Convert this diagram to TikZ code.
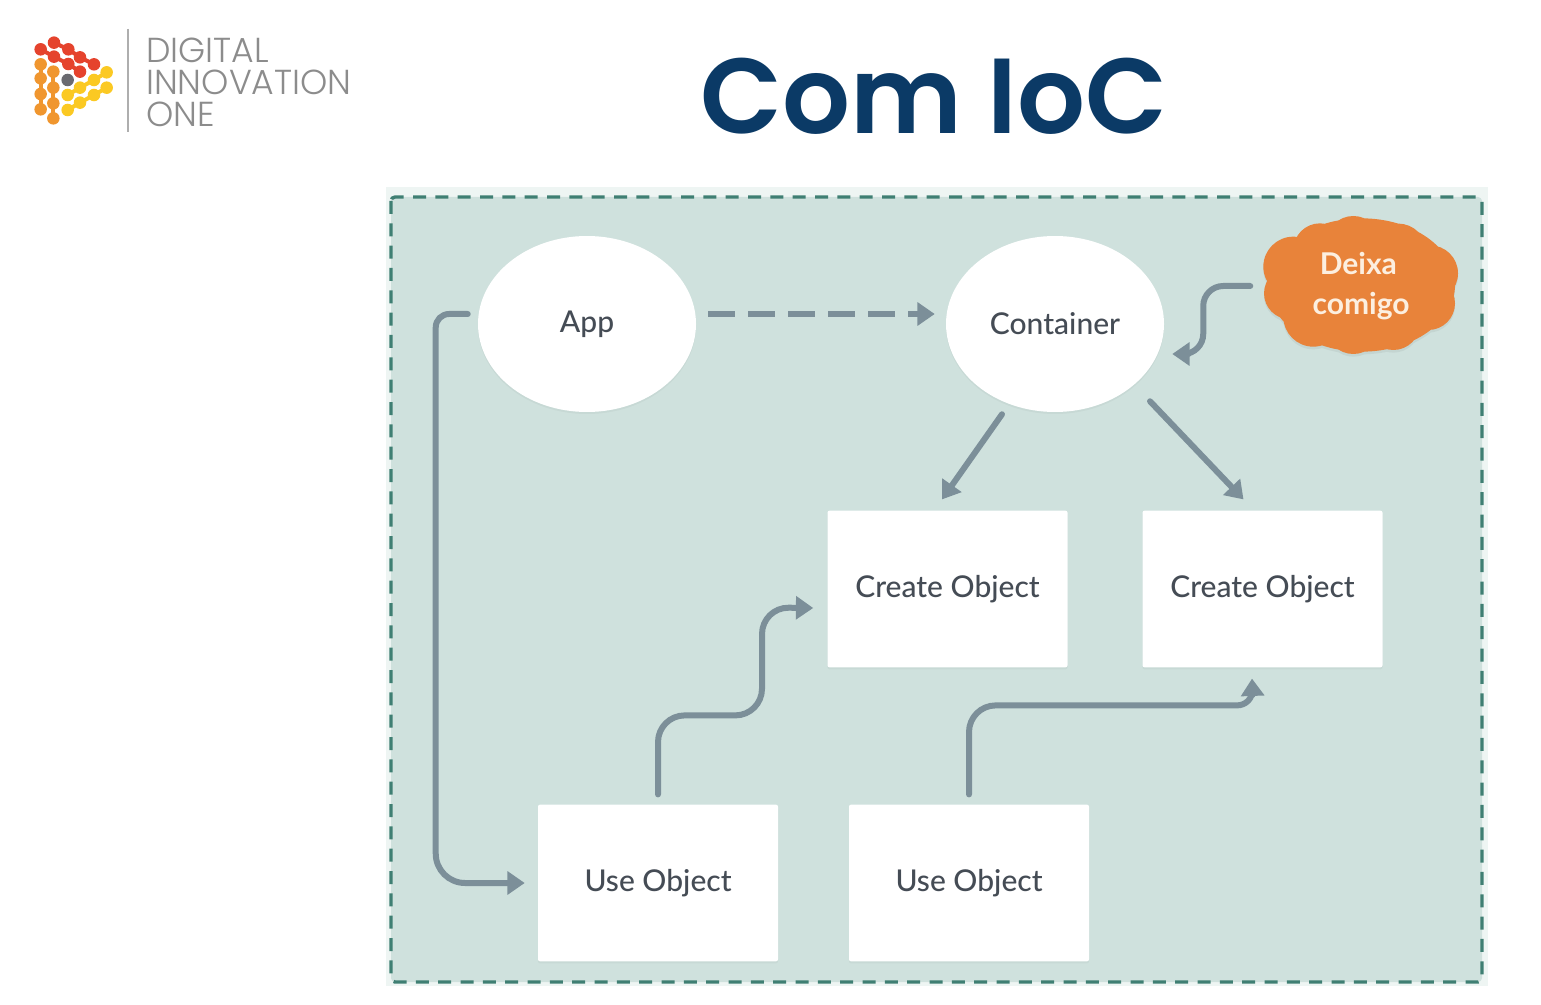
\documentclass[tikz,border=0pt]{standalone}
\usepackage{fontspec}
\usetikzlibrary{arrows.meta,shapes.geometric,shadows}
\setmainfont{Lato Medium}
\newfontfamily\cloudfont{Lato}
\newfontfamily\titlefont{Poppins SemiBold}
\newfontfamily\logofont{Poppins Light}
\definecolor{panel}{HTML}{CFE1DD}
\definecolor{panelfringe}{HTML}{EEF5F3}
\definecolor{dashcol}{HTML}{3F7F73}
\definecolor{conn}{HTML}{7C8F99}
\definecolor{labelcol}{HTML}{454C55}
\definecolor{navy}{HTML}{0B3A66}
\definecolor{cloudcol}{HTML}{E8833A}
\definecolor{cloudtxt}{HTML}{FCEFE0}
\definecolor{logogray}{HTML}{8C8C8C}
\definecolor{lred}{HTML}{E5432D}
\definecolor{lorange}{HTML}{F0962F}
\definecolor{lyellow}{HTML}{FBC923}
\definecolor{ldark}{HTML}{6A6A70}
\tikzset{
  softshadow/.style={drop shadow={shadow xshift=0pt,shadow yshift=-1.5pt,opacity=.035,fill=black}},
  circlenode/.style={ellipse,fill=white,minimum width=163.5pt,minimum height=132pt,inner sep=0pt,font=\fontsize{22.5}{26}\selectfont,text=labelcol,softshadow},
  boxnode/.style={rectangle,rounded corners=1.5pt,fill=white,minimum width=180pt,minimum height=117.5pt,inner sep=0pt,font=\fontsize{22.5}{26}\selectfont,text=labelcol,softshadow},
  cloudnode/.style={rectangle,inner sep=0pt,minimum width=146.25pt,minimum height=103.5pt,align=center,text=cloudtxt,font=\cloudfont\bfseries\fontsize{22.5}{30}\selectfont},
  link/.style={draw=conn,line width=4.5pt,line cap=round,-{Triangle[length=13pt,width=17pt]}},
  dashedlink/.style={link,line cap=butt,dash pattern=on 20pt off 10pt},
  frame/.style={draw=dashcol,line width=2.5pt,dash pattern=on 9.75pt off 7pt,rounded corners=3pt,fill=panel},
  logotxt/.style={anchor=west,inner sep=0pt,text=logogray,font=\logofont\fontsize{26}{26}\selectfont}
}
\begin{document}
\begin{tikzpicture}[x=0.75pt,y=-0.75pt]
\useasboundingbox (0,0) rectangle (1541,1005);
\fill[white] (0,0) rectangle (1541,1005);
% panel
\fill[panelfringe] (386,187) rectangle (1488,986);
\path[frame] (391,197) rectangle (1482,982);
% title
\node[anchor=center,inner sep=0pt,text=navy,font=\titlefont\fontsize{80}{100}\selectfont] (title) at (934,96) {Com IoC};
% logo
\draw[logogray!70,line width=1.2pt] (128,29) -- (128,132);
\node[logotxt] (l1) at (146,50) {DIGITAL};
\node[logotxt] (l2) at (146,82) {INNOVATION};
\node[logotxt] (l3) at (146,114) {ONE};
\begin{scope}[shift={(20,20)},x=0.25pt,y=-0.25pt]
\draw[lred,line width=3pt] (102,68) -- (145,88) -- (180,112) -- (222,133);
\draw[lred,line width=3pt] (62,88) -- (102,110) -- (145,132) -- (180,155);
\draw[lorange,line width=3pt] (62,133) -- (62,268);
\draw[lorange,line width=3pt] (100,155) -- (100,295);
\draw[lyellow,line width=3pt] (143,225) -- (180,203) -- (222,180) -- (260,157);
\draw[lyellow,line width=3pt] (143,270) -- (180,248) -- (222,225) -- (260,203);
\foreach \p in {(102,68),(145,88),(180,112),(222,133),(62,88),(102,110),(145,132),(180,155)} \fill[lred] \p circle (4.7pt);
\foreach \p in {(62,133),(62,175),(62,222),(62,268),(100,155),(100,203),(100,250),(100,295)} \fill[lorange] \p circle (4.7pt);
\foreach \p in {(143,225),(180,203),(222,180),(260,157),(143,270),(180,248),(222,225),(260,203)} \fill[lyellow] \p circle (4.7pt);
\fill[ldark] (143,180) circle (4.7pt);
\end{scope}
% cloud outline
\begin{scope}[shift={(1140,180)},x=0.25pt,y=-0.25pt]
\foreach \dy/\col/\op in {8/black/.05,0/cloudcol/1}{
\fill[\col,opacity=\op] (665,315+\dy) ellipse (70pt and 50pt)
  (640,190+\dy) circle (20.5pt) (775,215+\dy) circle (21pt) (870,280+\dy) circle (21pt)
  (865,370+\dy) circle (20pt) (760,430+\dy) circle (20pt) (640,440+\dy) circle (20.5pt)
  (520,410+\dy) circle (22.5pt) (450,340+\dy) circle (19.5pt) (460,260+\dy) circle (22.5pt)
  (540,210+\dy) circle (20pt) (560,230+\dy) circle (24pt) (770,400+\dy) circle (24pt)
  (800,270+\dy) circle (26pt) (530,370+\dy) circle (26pt);
}
\end{scope}
% nodes
\node[circlenode] (app) at (587,324) {App};
\node[circlenode] (container) at (1055,324) {Container};
\node[boxnode] (create1) at (947.5,589) {\raisebox{-1.5pt}{Create Object}};
\node[boxnode] (create2) at (1262.5,589) {\raisebox{-1.5pt}{Create Object}};
\node[boxnode] (use1) at (658,883) {\raisebox{-1.5pt}{Use Object}};
\node[boxnode] (use2) at (969,883) {\raisebox{-1.5pt}{Use Object}};
\node[cloudnode] (deixa) at (1361,286) {\hspace*{-4pt}Deixa\\comigo};
% connectors
\draw[dashedlink] ([shift={(12,-10)}]app.east) -- ([shift={(-11,-10)}]container.west);
\draw[link] ([shift={(-10,-10)}]app.west) [rounded corners=10pt] -- ++(-32,0) [rounded corners=22pt] -- ++(0,569) -- ([shift={(-13,0)}]use1.west);
\draw[link] ([shift={(-13,0)}]deixa.west) [rounded corners=15pt] -- ++(-47,0) -- ++(0,68) -- ([shift={(8,30)}]container.east);
\draw[link] ([shift={(-53,2)}]container.south) -- ([shift={(-5.5,-11)}]create1.north);
\draw[link] ([shift={(95,-11)}]container.south) -- ([shift={(-19,-11)}]create2.north);
\draw[link] ([shift={(0,-10)}]use1.north) [rounded corners=20pt] -- ++(0,-79) -- ++(104,0) -- ++(0,-108) -- ([shift={(-14,19)}]create1.west);
\draw[link] ([shift={(0,-10)}]use2.north) [rounded corners=20pt] -- ++(0,-89) [rounded corners=12pt] -- ++(284,0) -- ([shift={(-10.5,11)}]create2.south);
\end{tikzpicture}
\end{document}
